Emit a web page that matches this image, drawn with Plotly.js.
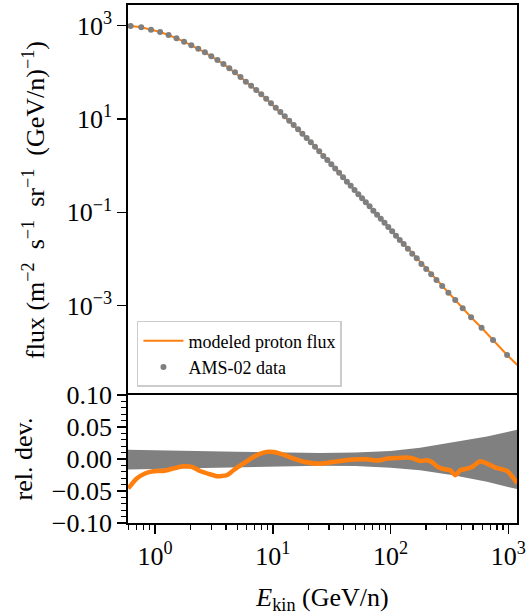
<!DOCTYPE html>
<html>
<head>
<meta charset="utf-8">
<script src="https://cdn.plot.ly/plotly-3.0.1.min.js"></script>
<style>html,body{margin:0;padding:0;background:#fff;}#chart{width:527px;height:615px;}</style>
</head>
<body>
<div id="chart"></div>
<script>
// AMS-02 data points (kinetic energy per nucleon, GeV/n) and flux
const dataE = [0.621,0.764,0.925,1.105,1.303,1.523,1.765,2.034,2.329,2.652,3.005,3.390,3.810,4.272,4.774,
  5.317,5.906,6.546,7.236,7.981,8.787,9.653,10.60,11.60,12.64,13.79,15.04,16.39,17.84,19.38,21.03,22.83,24.78,
  26.83,29.03,31.38,33.87,36.57,39.47,42.57,45.87,49.42,53.22,57.27,61.62,66.32,71.37,76.77,82.57,88.82,95.57,
  103.1,111.1,119.6,129.1,140.1,152.6,166.6,182.6,200.6,221.1,245.1,274.1,309.6,353.6,409.1,482.1,591.6,740,975];
const dataFlux = [986,925,820,733,631,537,454,380,321,269,221,184,151,122,100,
  79.4,63.1,51.8,41.9,33.9,27.3,21.7,17.5,14.2,11.5,9.20,7.45,6.03,4.85,3.93,3.18,2.55,2.04,
  1.61,1.32,1.07,0.871,0.708,0.565,0.454,0.373,0.302,0.244,0.200,0.164,0.135,0.109,0.0891,0.0733,0.0601,0.0486,
  0.0394,0.0316,0.0256,0.0210,0.0167,0.0130,0.0104,0.00783,0.00612,0.00471,0.00356,0.00264,0.00190,0.00132,
  0.000881,0.000565,0.000338,0.000184,0.0000879];

// modeled proton flux
const modelE = [0.59,0.621,0.764,0.925,1.105,1.303,1.523,1.765,2.034,2.329,2.652,3.005,3.390,3.810,4.272,4.774,
  5.317,5.906,6.546,7.236,7.981,8.787,9.653,10.60,11.60,12.64,13.79,15.04,16.39,17.84,19.38,21.03,22.83,24.78,
  26.83,29.03,31.38,33.87,36.57,39.47,42.57,45.87,49.42,53.22,57.27,61.62,66.32,71.37,76.77,82.57,88.82,95.57,
  103.1,111.1,119.6,129.1,140.1,152.6,166.6,182.6,200.6,221.1,245.1,274.1,309.6,353.6,409.1,482.1,591.6,740,975,1190];
const modelFlux = [1020,986,925,820,733,631,537,454,380,321,269,221,184,151,122,100,
  79.4,63.1,51.8,41.9,33.9,27.3,21.7,17.5,14.2,11.5,9.20,7.45,6.03,4.85,3.93,3.18,2.55,2.04,
  1.61,1.32,1.07,0.871,0.708,0.565,0.454,0.373,0.302,0.244,0.200,0.164,0.135,0.109,0.0891,0.0733,0.0601,0.0486,
  0.0394,0.0316,0.0256,0.0210,0.0167,0.0130,0.0104,0.00783,0.00612,0.00471,0.00356,0.00264,0.00190,0.00132,
  0.000881,0.000565,0.000338,0.000184,0.0000879,0.0000537];

// relative deviation of model from data
const devE = [0.593,0.700,0.822,0.967,1.176,1.430,1.740,2.05,2.41,2.93,3.34,4.06,4.63,5.62,6.84,8.32,10.1,12.3,
  15.0,18.8,23.6,28.8,37.3,48.4,62.9,71.6,81.6,93.0,113,138,157,178,203,224,247,281,321,354,390,445,491,577,658,774,973,1190];
const devVal = [-0.046,-0.0305,-0.0227,-0.0191,-0.0187,-0.0149,-0.0114,-0.0124,-0.0187,-0.0238,-0.0269,-0.0254,
  -0.0176,-0.0072,0.0031,0.0100,0.0109,0.0068,0.0006,-0.0047,-0.0072,-0.0062,-0.0031,-0.0009,-0.0005,-0.002,-0.002,
  0.0006,0.0016,0.0022,0.0006,-0.0031,-0.002,-0.0047,-0.0114,-0.0156,-0.0176,-0.0254,-0.0176,-0.0149,-0.0124,
  -0.0036,-0.0072,-0.0134,-0.0187,-0.038];

// relative data uncertainty band
const bandE = [0.59,1.0,2.0,5.0,10,25,50,100,178,341,658,1000,1190];
const bandUp = [0.0146,0.0135,0.0124,0.0112,0.0104,0.0095,0.0100,0.0125,0.0177,0.0265,0.0353,0.0425,0.0457];
const bandLow = [-0.0165,-0.0158,-0.0150,-0.0135,-0.0124,-0.0105,-0.0110,-0.0135,-0.0176,-0.0254,-0.0357,-0.0440,-0.0471];

const xTickVals = [1,10,100,1000];
const xTickText = ['10<sup>0</sup>','10<sup>1</sup>','10<sup>2</sup>','10<sup>3</sup>'];
const yTickVals = [1e3,1e1,1e-1,1e-3];
const yTickText = ['10<sup>3</sup>','10<sup>1</sup>','10<sup>−1</sup>','10<sup>−3</sup>'];
const y2TickVals = [-0.1,-0.05,0,0.05,0.1];
const y2TickText = ['−0.10','−0.05','0.00','0.05','0.10'];

const orange = '#ff7f0e';
const grey = '#7f7f7f';
const fam = '"Liberation Serif", "DejaVu Serif", serif';
const font = {family:fam, size:26, color:'#000'};
const titleFont = {family:fam, size:26, color:'#000'};

const traces = [
  {x:modelE, y:modelFlux, type:'scatter', mode:'lines', name:'modeled proton flux',
   line:{color:orange, width:2}, xaxis:'x', yaxis:'y'},
  {x:dataE, y:dataFlux, type:'scatter', mode:'markers', name:'AMS-02 data',
   marker:{color:grey, size:6}, xaxis:'x', yaxis:'y'},
  {x:bandE, y:bandLow, type:'scatter', mode:'lines', line:{width:0, color:grey}, showlegend:false,
   xaxis:'x2', yaxis:'y2', hoverinfo:'skip'},
  {x:bandE, y:bandUp, type:'scatter', mode:'lines', line:{width:0, color:grey}, fill:'tonexty',
   fillcolor:'#808080', showlegend:false, xaxis:'x2', yaxis:'y2', hoverinfo:'skip'},
  {x:devE, y:devVal, type:'scatter', mode:'lines', line:{color:orange, width:4.5, shape:'spline', smoothing:0.6},
   showlegend:false, xaxis:'x2', yaxis:'y2'}
];

const split = 128/518;
const axCommon = {showline:true, linecolor:'#000', linewidth:1.8, mirror:true, showgrid:false, zeroline:false,
  ticks:'outside', tickcolor:'#000', tickwidth:1.5, ticklen:9, tickfont:font};

const layout = {
  width:527, height:615,
  margin:{l:128, r:10, t:5, b:92},
  paper_bgcolor:'#fff', plot_bgcolor:'#fff',
  font:font,
  showlegend:true,
  legend:{x:0.023, y:0.39, xanchor:'left', yanchor:'top', bgcolor:'#fff', bordercolor:'#cccccc', borderwidth:1.5,
    traceorder:'normal', itemwidth:40,
    font:{family:fam, size:18, color:'#000'}, tracegroupgap:0},
  xaxis:Object.assign({}, axCommon, {type:'log', range:[-0.2292,3.073], domain:[0,1], anchor:'y', side:'top',
    mirror:false, ticks:'', showticklabels:false}),
  yaxis:Object.assign({}, axCommon, {type:'log', range:[-4.913,3.4435], domain:[split,1], anchor:'x',
    tickvals:yTickVals, ticktext:yTickText,
    title:{text:'flux (m<sup>−2</sup>&nbsp; s<sup>−1</sup>&nbsp; sr<sup>−1</sup>&nbsp; (GeV/n)<sup>−1</sup>)', font:titleFont, standoff:14}}),
  xaxis2:Object.assign({}, axCommon, {type:'log', range:[-0.2292,3.073], domain:[0,1], anchor:'y2', matches:'x',
    tickvals:xTickVals, ticktext:xTickText,
    minor:{ticks:'outside', ticklen:5, tickwidth:1.2, tickcolor:'#000', tickvals:[0.6,0.7,0.8,0.9,2,3,4,5,6,7,8,9,20,30,40,50,60,70,80,90,200,300,400,500,600,700,800,900]},
    title:{text:'<i>E</i><sub>kin</sub> (GeV/n)', font:titleFont, standoff:20}}),
  yaxis2:Object.assign({}, axCommon, {range:[-0.1,0.1], domain:[0,split], anchor:'x2',
    tickvals:y2TickVals, ticktext:y2TickText,
    minor:{ticks:'outside', ticklen:5, tickwidth:1.2, tickcolor:'#000', dtick:0.01},
    title:{text:'rel. dev.', font:titleFont, standoff:12}})
};

Plotly.newPlot('chart', traces, layout, {staticPlot:true, displayModeBar:false});
</script>
</body>
</html>
